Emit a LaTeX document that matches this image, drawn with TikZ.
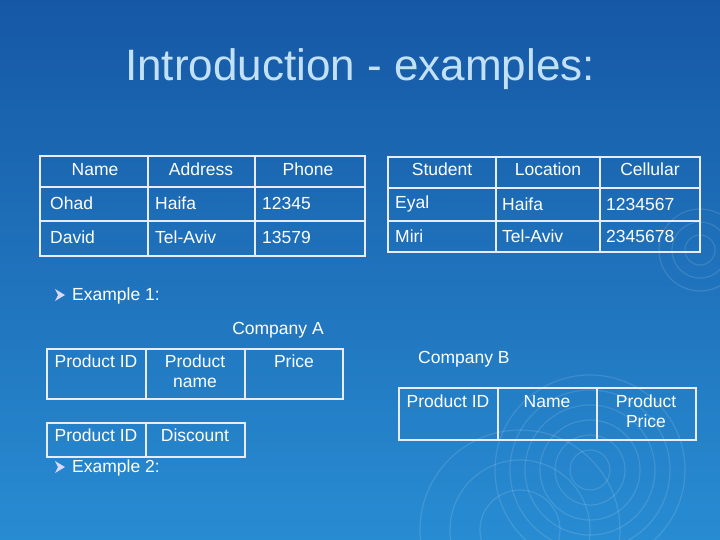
\documentclass[tikz,border=0pt]{standalone}
\usepackage{fontspec}
\setmainfont{Liberation Sans}
\begin{document}
\begin{tikzpicture}[x=1pt,y=-1pt,
  txt/.style={text=white,font=\fontsize{17.5}{20}\selectfont,inner sep=0pt},
  hd/.style={txt,anchor=north},
  bd/.style={txt,anchor=west},
  tb/.style={draw=white!92!blue,line width=1.3pt},
  bul/.style={fill=white!85!blue}]
\useasboundingbox (0,0) rectangle (720,540);
\shade[top color={rgb,255:red,22;green,88;blue,165},bottom color={rgb,255:red,40;green,140;blue,210}] (0,0) rectangle (720,540);
\begin{scope}[draw=white,opacity=0.12,line width=1.2pt]
\foreach \r in {20,35,50,65,80,95} \draw (590,470) circle (\r);
\foreach \r in {15,28,41} \draw (700,250) circle (\r);
\foreach \r in {40,70,100} \draw (520,530) circle (\r);
\end{scope}
\node[text={rgb,255:red,195;green,225;blue,245},font=\fontsize{44}{50}\selectfont] (title) at (360,69) {Introduction - examples:};
% table 1
\draw[tb] (40,156) rectangle (365,256) (40,187)--(365,187) (40,221)--(365,221) (148,156)--(148,256) (255,156)--(255,256);
\node[hd] (h1) at (95,163) {Name};
\node[hd] (h2) at (201,163) {Address};
\node[hd] (h3) at (308,163) {Phone};
\node[bd] (a1) at (50,203) {Ohad};
\node[bd] (a2) at (155,203) {Haifa};
\node[bd] (a3) at (262,203) {12345};
\node[bd] (b1) at (50,237) {David};
\node[bd] (b2) at (155,237) {Tel-Aviv};
\node[bd] (b3) at (262,237) {13579};
% table 2
\draw[tb] (388,157) rectangle (700,252) (388,188)--(700,188) (388,221)--(700,221) (496,157)--(496,252) (600,157)--(600,252);
\node[hd] (g1) at (442,163) {Student};
\node[hd] (g2) at (548,163) {Location};
\node[hd] (g3) at (650,163) {Cellular};
\node[bd] (c1) at (395,204) {Eyal};
\node[bd] (c2) at (502,204) {Haifa};
\node[bd] (c3) at (606,204) {1234567};
\node[bd] (d1) at (395,236) {Miri};
\node[bd] (d2) at (502,236) {Tel-Aviv};
\node[bd] (d3) at (606,236) {2345678};
% bullets
\fill[bul] (55,289)--(65,295)--(55,301)--(58,295)--cycle;
\node[bd] (ex1) at (72,296) {Example 1:};
\fill[bul] (55,461)--(65,467)--(55,473)--(58,467)--cycle;
\node[bd] (ex2) at (72,468) {Example 2:};
% company A
\node[txt] (ca) at (278,330) {Company A};
\draw[tb] (47,349) rectangle (343,399) (146,349)--(146,399) (245,349)--(245,399);
\node[hd] (p1) at (96,355) {Product ID};
\node[hd,align=center] (p2) at (195,355) {Product\\name};
\node[hd] (p3) at (294,355) {Price};
\draw[tb] (47,423) rectangle (245,457) (146,423)--(146,457);
\node[hd] (q1) at (96,429) {Product ID};
\node[hd] (q2) at (195,429) {Discount};
% company B
\node[txt,anchor=west] (cb) at (418,359) {Company B};
\draw[tb] (399,388) rectangle (696,440) (498,388)--(498,440) (597,388)--(597,440);
\node[hd] (r1) at (448,395) {Product ID};
\node[hd] (r2) at (547,395) {Name};
\node[hd,align=center] (r3) at (646,395) {Product\\Price};
\end{tikzpicture}
\end{document}
